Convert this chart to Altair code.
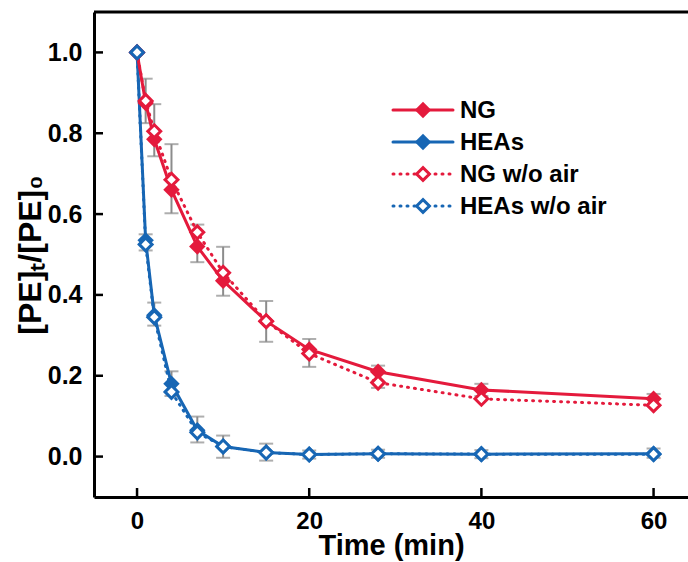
import altair as alt
import pandas as pd

# ---- data ----
time = [0, 1, 2, 4, 7, 10, 15, 20, 28, 40, 60]
ng = [1.0, 0.875, 0.785, 0.66, 0.52, 0.435, 0.335, 0.265, 0.21, 0.165, 0.143]
heas = [1.0, 0.535, 0.35, 0.18, 0.065, 0.025, 0.01, 0.005, 0.007, 0.006, 0.007]
ng_air = [1.0, 0.88, 0.805, 0.685, 0.555, 0.455, 0.335, 0.255, 0.183, 0.143, 0.127]
heas_air = [1.0, 0.525, 0.345, 0.16, 0.06, 0.025, 0.01, 0.005, 0.007, 0.006, 0.006]

err_time = [1, 2, 4, 7, 10, 15, 20, 28, 40, 60]
ng_lo = [0.825, 0.743, 0.602, 0.481, 0.398, 0.284, 0.222, 0.17, 0.15, 0.125]
ng_hi = [0.935, 0.872, 0.773, 0.574, 0.519, 0.385, 0.291, 0.225, 0.18, 0.155]
heas_lo = [0.51, 0.324, 0.15, 0.035, -0.003, -0.01, -0.005, -0.003, -0.004, -0.003]
heas_hi = [0.55, 0.381, 0.211, 0.099, 0.052, 0.032, 0.015, 0.017, 0.016, 0.02]

labels = ["NG", "HEAs", "NG w/o air", "HEAs w/o air"]
x_ticks = [0, 20, 40, 60]
y_ticks = [0.0, 0.2, 0.4, 0.6, 0.8, 1.0]

RED = "#E41A3C"
BLUE = "#1766B4"
GREY = "#8C8C8C"
FONT = "Liberation Sans"
W, H = 594, 485

series = {"NG": (ng, RED), "HEAs": (heas, BLUE), "NG w/o air": (ng_air, RED), "HEAs w/o air": (heas_air, BLUE)}

def sdf(name):
    vals, col = series[name]
    return pd.DataFrame({"t": time, "v": vals, "col": col, "series": name})

err = pd.DataFrame({
    "t": err_time + err_time,
    "lo": ng_lo + heas_lo,
    "hi": ng_hi + heas_hi,
})

xscale = alt.Scale(domain=[-5, 64], nice=False, zero=False)
yscale = alt.Scale(domain=[-0.1, 1.1], nice=False, zero=False)
XT = "Time (min)"
YT = "[PE]ₜ/[PE]₀"

x_axis = alt.Axis(values=x_ticks, ticks=False, grid=False, labelFont=FONT, labelFontSize=24,
                  labelFontWeight="bold", labelColor="black", labelPadding=12, domainColor="black",
                  domainWidth=3, titleFont=FONT, titleFontSize=29, titleFontWeight="bold",
                  titleColor="black", titlePadding=-2)
y_axis = alt.Axis(values=y_ticks, format=".1f", ticks=False, grid=False, labelFont=FONT,
                  labelFontSize=25, labelFontWeight="bold", labelColor="black", labelPadding=12,
                  domainColor="black", domainWidth=3, titleFont=FONT, titleFontSize=32,
                  titleFontWeight="bold", titleColor="black", titlePadding=0)

def X(f):
    return alt.X(f, scale=xscale, axis=x_axis, title=XT)

def Y(f):
    return alt.Y(f, scale=yscale, axis=y_axis, title=YT)

col = alt.Color("col:N", scale=None)

errbars = alt.Chart(err).mark_rule(color=GREY, strokeWidth=2).encode(x=X("t:Q"), y=Y("lo:Q"), y2="hi:Q")
cap_lo = alt.Chart(err).mark_tick(color=GREY, orient="horizontal", size=14, thickness=2).encode(x=X("t:Q"), y=Y("lo:Q"))
cap_hi = alt.Chart(err).mark_tick(color=GREY, orient="horizontal", size=14, thickness=2).encode(x=X("t:Q"), y=Y("hi:Q"))

def solid(name):
    return alt.Chart(sdf(name)).mark_line(strokeWidth=3).encode(x=X("t:Q"), y=Y("v:Q"), color=col)

def dotted(name):
    return alt.Chart(sdf(name)).mark_line(strokeWidth=3, strokeDash=[1, 6], strokeCap="round").encode(
        x=X("t:Q"), y=Y("v:Q"), color=col)

def filled_pts(name):
    return alt.Chart(sdf(name)).mark_point(shape="diamond", filled=True, size=270, opacity=1).encode(
        x=X("t:Q"), y=Y("v:Q"), color=col)

def open_pts(name):
    return alt.Chart(sdf(name)).mark_point(shape="diamond", filled=False, fill="white", fillOpacity=1,
                                           strokeWidth=3, size=165, opacity=1).encode(
        x=X("t:Q"), y=Y("v:Q"), stroke=alt.Stroke("col:N", scale=None))

xt = alt.Chart(pd.DataFrame({"v": x_ticks})).mark_rule(color="black", strokeWidth=2.5).encode(
    x=X("v:Q"), y=alt.value(H), y2=alt.value(H - 9))
yt = alt.Chart(pd.DataFrame({"v": y_ticks})).mark_rule(color="black", strokeWidth=2.5).encode(
    y=Y("v:Q"), x=alt.value(0), x2=alt.value(9))
top = alt.Chart(pd.DataFrame({"a": [0]})).mark_rule(color="black", strokeWidth=3).encode(
    y=alt.value(0), x=alt.value(0), x2=alt.value(W))

main = alt.layer(
    errbars, cap_lo, cap_hi,
    solid("HEAs"), dotted("HEAs w/o air"), solid("NG"), dotted("NG w/o air"),
    filled_pts("NG"), filled_pts("HEAs"), open_pts("NG w/o air"), open_pts("HEAs w/o air"),
    xt, yt, top,
)

# ---- legend drawn from its own small table ----
leg = pd.DataFrame({
    "label": labels,
    "col": [RED, BLUE, RED, BLUE],
    "x0": [0, 0, 0, 0],
    "x1": [1, 1, 1, 1],
    "xm": [0.5, 0.5, 0.5, 0.5],
    "kind": ["filled", "filled", "open", "open"],
})
lx = alt.Scale(domain=[0, 1], range=[299, 359])
ly = alt.Scale(type="point", domain=labels, range=[98, 194], padding=0)
LY = alt.Y("label:N", scale=ly, axis=None)

leg_lines = alt.Chart(leg).mark_rule(strokeWidth=3, strokeCap="round").encode(
    x=alt.X("x0:Q", scale=lx, axis=None), x2="x1:Q", y=LY, color=col,
    strokeDash=alt.StrokeDash("label:N", scale=alt.Scale(domain=labels, range=[[1, 0], [1, 0], [1, 6], [1, 6]]), legend=None))
leg_filled = alt.Chart(leg).transform_filter("datum.kind == 'filled'").mark_point(
    shape="diamond", filled=True, size=270, opacity=1).encode(
    x=alt.X("xm:Q", scale=lx, axis=None), y=LY, color=col)
leg_open = alt.Chart(leg).transform_filter("datum.kind == 'open'").mark_point(
    shape="diamond", filled=False, fill="white", fillOpacity=1, strokeWidth=3, size=165, opacity=1).encode(
    x=alt.X("xm:Q", scale=lx, axis=None), y=LY, stroke=alt.Stroke("col:N", scale=None))
leg_text = alt.Chart(leg).mark_text(align="left", baseline="middle", dx=7, dy=1, font=FONT, fontSize=24,
                                    fontWeight="bold", color="black").encode(
    x=alt.X("x1:Q", scale=lx, axis=None), y=LY, text="label:N")

legend = alt.layer(leg_lines, leg_filled, leg_open, leg_text)

chart = alt.layer(main, legend).resolve_scale(x="independent", y="independent").properties(
    width=W, height=H,
    autosize=alt.AutoSizeParams(type="none"),
    padding={"left": 94, "top": 12, "right": 0, "bottom": 65},
    background="white",
).configure_view(stroke=None)

chart.save("out.html", embed_options={"renderer": "svg", "actions": False})
